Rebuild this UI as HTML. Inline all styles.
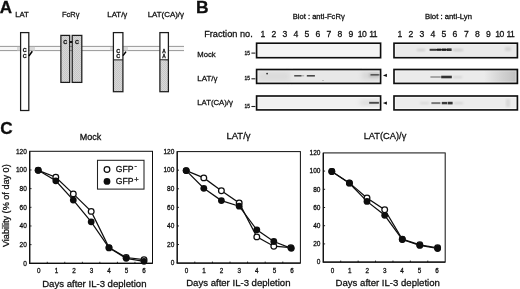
<!DOCTYPE html>
<html><head><meta charset="utf-8"><title>Figure</title>
<style>html,body{margin:0;padding:0;background:#fff;}svg{display:block;}text{font-family:"Liberation Sans", sans-serif;fill:#111;stroke:#111;stroke-width:0.28px;}</style>
</head><body>
<svg width="520" height="289" viewBox="0 0 520 289">
<defs>
<filter id="b1" x="-20%" y="-100%" width="140%" height="300%"><feGaussianBlur stdDeviation="0.75"/></filter>
<filter id="b2" x="-20%" y="-100%" width="140%" height="300%"><feGaussianBlur stdDeviation="1.2"/></filter>
<filter id="b3" x="-30%" y="-50%" width="160%" height="200%"><feGaussianBlur stdDeviation="2.5"/></filter>
<filter id="soft"><feGaussianBlur stdDeviation="0.35"/></filter>
<pattern id="dots" width="2" height="2" patternUnits="userSpaceOnUse"><rect width="2" height="2" fill="#d8d8d8"/><rect width="1" height="1" fill="#c6c6c6"/><rect x="1" y="1" width="1" height="1" fill="#c6c6c6"/></pattern>
<linearGradient id="smg" x1="0" x2="1" y1="0" y2="0"><stop offset="0" stop-color="#aaa" stop-opacity="0"/><stop offset="0.55" stop-color="#aaa" stop-opacity="0.4"/><stop offset="1" stop-color="#a0a0a0" stop-opacity="0.6"/></linearGradient>
</defs>
<rect width="520" height="289" fill="#fff"/>
<g filter="url(#soft)">
<text x="-0.3" y="12.5" font-size="16.0" text-anchor="start" font-weight="bold" textLength="12.3" lengthAdjust="spacingAndGlyphs">A</text>
<text x="15.2" y="17" font-size="7.6" text-anchor="start" font-weight="normal" textLength="13.6" lengthAdjust="spacingAndGlyphs">LAT</text>
<text x="62" y="17" font-size="7.6" text-anchor="start" font-weight="normal" textLength="17.4" lengthAdjust="spacingAndGlyphs">FcR&#947;</text>
<text x="107.3" y="17" font-size="7.6" text-anchor="start" font-weight="normal" textLength="20" lengthAdjust="spacingAndGlyphs">LAT/&#947;</text>
<text x="147.7" y="17" font-size="7.6" text-anchor="start" font-weight="normal" textLength="36.3" lengthAdjust="spacingAndGlyphs">LAT(CA)/&#947;</text>
<rect x="0" y="46.4" width="184" height="4.5" fill="#f7f7f7"/>
<line x1="0" y1="46.4" x2="184" y2="46.4" stroke="#8c8c8c" stroke-width="0.9"/>
<line x1="0" y1="50.6" x2="184" y2="50.6" stroke="#8c8c8c" stroke-width="0.9"/>
<rect x="17" y="46.9" width="3.5" height="3.5" fill="#d8d8d8"/>
<rect x="28.8" y="46.9" width="6.199999999999999" height="3.5" fill="#d8d8d8"/>
<rect x="110" y="46.9" width="3.299999999999997" height="3.5" fill="#d8d8d8"/>
<rect x="123" y="46.9" width="5" height="3.5" fill="#d8d8d8"/>
<rect x="20.6" y="32.6" width="8.2" height="77.9" fill="#fff" stroke="#1c1c1c" stroke-width="1.25"/>
<rect x="60.9" y="35.4" width="8.8" height="47" fill="url(#dots)" stroke="#1c1c1c" stroke-width="1.25"/>
<rect x="72.2" y="35.4" width="9.6" height="47" fill="url(#dots)" stroke="#1c1c1c" stroke-width="1.25"/>
<line x1="69.7" y1="42" x2="72.2" y2="42" stroke="#000" stroke-width="1.8"/>
<rect x="113.4" y="60.3" width="9.5" height="31.4" fill="url(#dots)" stroke="none"/>
<rect x="113.4" y="32.6" width="9.5" height="27.7" fill="#fff" stroke="none"/>
<rect x="113.4" y="32.6" width="9.5" height="59.1" fill="none" stroke="#1c1c1c" stroke-width="1.25"/>
<line x1="113.4" y1="59.9" x2="122.9" y2="59.9" stroke="#1c1c1c" stroke-width="1.1"/>
<rect x="159.9" y="60.3" width="8.5" height="31.4" fill="url(#dots)" stroke="none"/>
<rect x="159.9" y="32.6" width="8.5" height="27.7" fill="#fff" stroke="none"/>
<rect x="159.9" y="32.6" width="8.5" height="59.1" fill="none" stroke="#1c1c1c" stroke-width="1.25"/>
<line x1="159.9" y1="59.7" x2="168.4" y2="59.9" stroke="#1c1c1c" stroke-width="1.1"/>
<line x1="28.9" y1="56" x2="32.3" y2="51.3" stroke="#000" stroke-width="1.5"/>
<line x1="123" y1="55.6" x2="126" y2="51.6" stroke="#000" stroke-width="1.5"/>
<text x="24.7" y="52.4" font-size="5.4" text-anchor="middle" font-weight="bold">C</text>
<text x="24.7" y="58.2" font-size="5.4" text-anchor="middle" font-weight="bold">C</text>
<text x="65.2" y="44.2" font-size="5.4" text-anchor="middle" font-weight="bold">C</text>
<text x="77" y="44.2" font-size="5.4" text-anchor="middle" font-weight="bold">C</text>
<text x="118.1" y="53.1" font-size="5.4" text-anchor="middle" font-weight="bold">C</text>
<text x="118.1" y="58.3" font-size="5.4" text-anchor="middle" font-weight="bold">C</text>
<text x="164.1" y="52.6" font-size="4.8" text-anchor="middle" font-weight="bold">A</text>
<text x="164.1" y="57.9" font-size="4.8" text-anchor="middle" font-weight="bold">A</text>
<text x="195.9" y="12.5" font-size="15.8" text-anchor="start" font-weight="bold" textLength="12.6" lengthAdjust="spacingAndGlyphs">B</text>
<text x="292.7" y="19.2" font-size="7.5" text-anchor="start" font-weight="normal" textLength="52" lengthAdjust="spacingAndGlyphs">Blot : anti-FcR&#947;</text>
<text x="425" y="19.2" font-size="7.5" text-anchor="start" font-weight="normal" textLength="47" lengthAdjust="spacingAndGlyphs">Blot : anti-Lyn</text>
<text x="204.2" y="37" font-size="9.3" text-anchor="start" font-weight="normal" textLength="48.5" lengthAdjust="spacingAndGlyphs">Fraction no.</text>
<text x="263" y="37.1" font-size="8.6" text-anchor="middle" font-weight="normal" stroke-width="0.12">1</text>
<text x="400" y="37.1" font-size="8.6" text-anchor="middle" font-weight="normal" stroke-width="0.12">1</text>
<text x="274" y="37.1" font-size="8.6" text-anchor="middle" font-weight="normal" stroke-width="0.12">2</text>
<text x="411" y="37.1" font-size="8.6" text-anchor="middle" font-weight="normal" stroke-width="0.12">2</text>
<text x="285" y="37.1" font-size="8.6" text-anchor="middle" font-weight="normal" stroke-width="0.12">3</text>
<text x="422" y="37.1" font-size="8.6" text-anchor="middle" font-weight="normal" stroke-width="0.12">3</text>
<text x="296" y="37.1" font-size="8.6" text-anchor="middle" font-weight="normal" stroke-width="0.12">4</text>
<text x="433" y="37.1" font-size="8.6" text-anchor="middle" font-weight="normal" stroke-width="0.12">4</text>
<text x="307" y="37.1" font-size="8.6" text-anchor="middle" font-weight="normal" stroke-width="0.12">5</text>
<text x="444" y="37.1" font-size="8.6" text-anchor="middle" font-weight="normal" stroke-width="0.12">5</text>
<text x="318" y="37.1" font-size="8.6" text-anchor="middle" font-weight="normal" stroke-width="0.12">6</text>
<text x="455" y="37.1" font-size="8.6" text-anchor="middle" font-weight="normal" stroke-width="0.12">6</text>
<text x="329" y="37.1" font-size="8.6" text-anchor="middle" font-weight="normal" stroke-width="0.12">7</text>
<text x="466.4" y="37.1" font-size="8.6" text-anchor="middle" font-weight="normal" stroke-width="0.12">7</text>
<text x="340" y="37.1" font-size="8.6" text-anchor="middle" font-weight="normal" stroke-width="0.12">8</text>
<text x="477.4" y="37.1" font-size="8.6" text-anchor="middle" font-weight="normal" stroke-width="0.12">8</text>
<text x="351" y="37.1" font-size="8.6" text-anchor="middle" font-weight="normal" stroke-width="0.12">9</text>
<text x="488.4" y="37.1" font-size="8.6" text-anchor="middle" font-weight="normal" stroke-width="0.12">9</text>
<text x="362" y="37.1" font-size="8.6" text-anchor="middle" font-weight="normal" letter-spacing="-0.6" stroke-width="0.12">10</text>
<text x="499.4" y="37.1" font-size="8.6" text-anchor="middle" font-weight="normal" letter-spacing="-0.6" stroke-width="0.12">10</text>
<text x="373" y="37.1" font-size="8.6" text-anchor="middle" font-weight="normal" letter-spacing="-0.6" stroke-width="0.12">11</text>
<text x="510.4" y="37.1" font-size="8.6" text-anchor="middle" font-weight="normal" letter-spacing="-0.6" stroke-width="0.12">11</text>
<text x="197.3" y="56.5" font-size="8.0" text-anchor="start" font-weight="normal" textLength="18.4" lengthAdjust="spacingAndGlyphs">Mock</text>
<text x="197.3" y="81.0" font-size="8.0" text-anchor="start" font-weight="normal" textLength="20.2" lengthAdjust="spacingAndGlyphs">LAT/&#947;</text>
<text x="197.3" y="105.2" font-size="8.0" text-anchor="start" font-weight="normal" textLength="35.6" lengthAdjust="spacingAndGlyphs">LAT(CA)/&#947;</text>
<text x="244.5" y="54.7" font-size="5.2" text-anchor="start" font-weight="normal" textLength="5.4" lengthAdjust="spacingAndGlyphs">15</text>
<line x1="251.4" y1="53.1" x2="255.4" y2="53.1" stroke="#222" stroke-width="1.1"/>
<text x="244.5" y="80.39999999999999" font-size="5.2" text-anchor="start" font-weight="normal" textLength="5.4" lengthAdjust="spacingAndGlyphs">15</text>
<line x1="251.4" y1="78.8" x2="255.4" y2="78.8" stroke="#222" stroke-width="1.1"/>
<text x="244.5" y="108.1" font-size="5.2" text-anchor="start" font-weight="normal" textLength="5.4" lengthAdjust="spacingAndGlyphs">15</text>
<line x1="251.4" y1="106.5" x2="255.4" y2="106.5" stroke="#222" stroke-width="1.1"/>
<rect x="256.6" y="43.2" width="124.0" height="14.5" fill="#f4f4f4"/>
<rect x="394.0" y="43.2" width="123.39999999999998" height="14.5" fill="#eaeaea"/>
<rect x="256.6" y="69.5" width="124.0" height="13.900000000000006" fill="#e8e8e8"/>
<rect x="394.0" y="69.5" width="123.39999999999998" height="13.900000000000006" fill="#ebebeb"/>
<rect x="256.6" y="96.0" width="124.0" height="13.900000000000006" fill="#f0f0f0"/>
<rect x="394.0" y="96.0" width="123.39999999999998" height="13.900000000000006" fill="#ececec"/>
<rect x="258" y="71.5" width="32" height="10" fill="#cfcfcf" opacity="0.5" filter="url(#b3)"/>
<rect x="294.2" y="75.05" width="7.300000000000011" height="1.5" fill="#222" opacity="0.8" filter="url(#b1)"/>
<rect x="301.5" y="75.3" width="2.6999999999999886" height="1.0" fill="#444" opacity="0.45" filter="url(#b1)"/>
<rect x="306.8" y="75.0" width="8.099999999999966" height="1.6" fill="#222" opacity="0.8" filter="url(#b1)"/>
<rect x="362" y="71.5" width="18" height="8" fill="#999" opacity="0.22" filter="url(#b3)"/>
<rect x="369" y="72.95" width="11" height="4.5" fill="#888" opacity="0.3" filter="url(#b2)"/>
<rect x="370.5" y="74.0" width="9.300000000000011" height="1.6" fill="#222" opacity="0.65" filter="url(#b1)"/>
<circle cx="267.1" cy="73.6" r="0.85" fill="#222"/>
<circle cx="323" cy="80.6" r="0.5" fill="#777"/>
<rect x="360" y="100.7" width="20" height="4" fill="#999" opacity="0.3" filter="url(#b3)"/>
<rect x="369.2" y="101.85" width="10.0" height="1.9" fill="#222" opacity="0.8" filter="url(#b1)"/>
<polygon points="382.9,75.4 386.9,73.7 386.9,77.1" fill="#111"/>
<polygon points="382.9,103.1 386.9,101.4 386.9,104.8" fill="#111"/>
<rect x="429.6" y="48.8" width="7.0" height="2.0" fill="#1a1a1a" opacity="0.85" filter="url(#b1)"/>
<rect x="437.0" y="48.6" width="4.399999999999977" height="2.2" fill="#1a1a1a" opacity="0.9" filter="url(#b1)"/>
<rect x="442.0" y="48.5" width="4.399999999999977" height="2.4" fill="#1a1a1a" opacity="0.9" filter="url(#b1)"/>
<rect x="447.0" y="48.400000000000006" width="4.600000000000023" height="2.6" fill="#1a1a1a" opacity="0.9" filter="url(#b1)"/>
<rect x="436" y="49.0" width="11.5" height="1.4" fill="#1a1a1a" opacity="0.8" filter="url(#b1)"/>
<rect x="417" y="49.2" width="8" height="1.6" fill="#666" opacity="0.3" filter="url(#b2)"/>
<rect x="453" y="49.2" width="10" height="1.6" fill="#777" opacity="0.35" filter="url(#b2)"/>
<rect x="505" y="47.0" width="6" height="4" fill="#aaa" opacity="0.35" filter="url(#b2)"/>
<rect x="430.4" y="76.25" width="10.400000000000034" height="1.5" fill="#555" opacity="0.6" filter="url(#b1)"/>
<rect x="441.2" y="75.7" width="10.600000000000023" height="2.6" fill="#1a1a1a" opacity="0.9" filter="url(#b1)"/>
<rect x="453" y="76.4" width="9" height="1.6" fill="#888" opacity="0.3" filter="url(#b2)"/>
<rect x="484" y="70" width="33" height="13" fill="url(#smg)"/>
<rect x="431.4" y="102.1" width="9.0" height="2.0" fill="#3a3a3a" opacity="0.65" filter="url(#b1)"/>
<rect x="441.8" y="101.89999999999999" width="5.199999999999989" height="2.4" fill="#1a1a1a" opacity="0.85" filter="url(#b1)"/>
<rect x="447.6" y="101.8" width="5.0" height="2.6" fill="#1a1a1a" opacity="0.9" filter="url(#b1)"/>
<rect x="420" y="102.4" width="9" height="1.6" fill="#888" opacity="0.25" filter="url(#b2)"/>
<rect x="454" y="102.4" width="9" height="1.6" fill="#888" opacity="0.3" filter="url(#b2)"/>
<rect x="506" y="99.0" width="4" height="8" fill="#aaa" opacity="0.3" filter="url(#b2)"/>
<rect x="257.90000000000003" y="44.5" width="121.4" height="11.9" fill="none" stroke="#fff" stroke-opacity="0.6" stroke-width="0.9"/>
<rect x="256.6" y="43.2" width="124.0" height="14.5" fill="none" stroke="#111" stroke-width="1.65"/>
<rect x="395.3" y="44.5" width="120.79999999999998" height="11.9" fill="none" stroke="#fff" stroke-opacity="0.6" stroke-width="0.9"/>
<rect x="394.0" y="43.2" width="123.39999999999998" height="14.5" fill="none" stroke="#111" stroke-width="1.65"/>
<rect x="257.90000000000003" y="70.8" width="121.4" height="11.300000000000006" fill="none" stroke="#fff" stroke-opacity="0.6" stroke-width="0.9"/>
<rect x="256.6" y="69.5" width="124.0" height="13.900000000000006" fill="none" stroke="#111" stroke-width="1.65"/>
<rect x="395.3" y="70.8" width="120.79999999999998" height="11.300000000000006" fill="none" stroke="#fff" stroke-opacity="0.6" stroke-width="0.9"/>
<rect x="394.0" y="69.5" width="123.39999999999998" height="13.900000000000006" fill="none" stroke="#111" stroke-width="1.65"/>
<rect x="257.90000000000003" y="97.3" width="121.4" height="11.300000000000006" fill="none" stroke="#fff" stroke-opacity="0.6" stroke-width="0.9"/>
<rect x="256.6" y="96.0" width="124.0" height="13.900000000000006" fill="none" stroke="#111" stroke-width="1.65"/>
<rect x="395.3" y="97.3" width="120.79999999999998" height="11.300000000000006" fill="none" stroke="#fff" stroke-opacity="0.6" stroke-width="0.9"/>
<rect x="394.0" y="96.0" width="123.39999999999998" height="13.900000000000006" fill="none" stroke="#111" stroke-width="1.65"/>
<text x="0.2" y="134.0" font-size="16.6" text-anchor="start" font-weight="bold" textLength="12.4" lengthAdjust="spacingAndGlyphs">C</text>
<text x="79.8" y="139.5" font-size="9.1" text-anchor="start" font-weight="normal" textLength="21.5" lengthAdjust="spacingAndGlyphs">Mock</text>
<text x="226.5" y="139.2" font-size="9.1" text-anchor="start" font-weight="normal" textLength="24" lengthAdjust="spacingAndGlyphs">LAT/&#947;</text>
<text x="363.7" y="138.8" font-size="9.1" text-anchor="start" font-weight="normal" textLength="42.6" lengthAdjust="spacingAndGlyphs">LAT(CA)/&#947;</text>
<rect x="29.7" y="151.3" width="122.8" height="112.0" fill="none" stroke="#111" stroke-width="1.0"/>
<line x1="29.7" y1="151.3" x2="29.7" y2="263.3" stroke="#111" stroke-width="1.15"/>
<line x1="29.099999999999998" y1="263.3" x2="152.5" y2="263.3" stroke="#111" stroke-width="1.2"/>
<text x="26.8" y="265.6" font-size="6.5" text-anchor="end" font-weight="normal" stroke-width="0.12">0</text>
<line x1="29.7" y1="244.63" x2="31.5" y2="244.63" stroke="#111" stroke-width="0.9"/>
<text x="26.8" y="246.93" font-size="6.5" text-anchor="end" font-weight="normal" stroke-width="0.12">20</text>
<line x1="29.7" y1="225.97" x2="31.5" y2="225.97" stroke="#111" stroke-width="0.9"/>
<text x="26.8" y="228.27" font-size="6.5" text-anchor="end" font-weight="normal" stroke-width="0.12">40</text>
<line x1="29.7" y1="207.30" x2="31.5" y2="207.30" stroke="#111" stroke-width="0.9"/>
<text x="26.8" y="209.6" font-size="6.5" text-anchor="end" font-weight="normal" stroke-width="0.12">60</text>
<line x1="29.7" y1="188.63" x2="31.5" y2="188.63" stroke="#111" stroke-width="0.9"/>
<text x="26.8" y="190.93" font-size="6.5" text-anchor="end" font-weight="normal" stroke-width="0.12">80</text>
<line x1="29.7" y1="169.97" x2="31.5" y2="169.97" stroke="#111" stroke-width="0.9"/>
<text x="26.8" y="172.27" font-size="6.5" text-anchor="end" font-weight="normal" stroke-width="0.12">100</text>
<text x="26.8" y="153.6" font-size="6.5" text-anchor="end" font-weight="normal" stroke-width="0.12">120</text>
<text x="38.87" y="273.4" font-size="6.3" text-anchor="middle" font-weight="normal" stroke-width="0.35">0</text>
<line x1="47.24" y1="263.3" x2="47.24" y2="261.8" stroke="#111" stroke-width="0.9"/>
<text x="56.41" y="273.4" font-size="6.3" text-anchor="middle" font-weight="normal" stroke-width="0.35">1</text>
<line x1="64.79" y1="263.3" x2="64.79" y2="261.8" stroke="#111" stroke-width="0.9"/>
<text x="73.96" y="273.4" font-size="6.3" text-anchor="middle" font-weight="normal" stroke-width="0.35">2</text>
<line x1="82.33" y1="263.3" x2="82.33" y2="261.8" stroke="#111" stroke-width="0.9"/>
<text x="91.5" y="273.4" font-size="6.3" text-anchor="middle" font-weight="normal" stroke-width="0.35">3</text>
<line x1="99.87" y1="263.3" x2="99.87" y2="261.8" stroke="#111" stroke-width="0.9"/>
<text x="109.04" y="273.4" font-size="6.3" text-anchor="middle" font-weight="normal" stroke-width="0.35">4</text>
<line x1="117.41" y1="263.3" x2="117.41" y2="261.8" stroke="#111" stroke-width="0.9"/>
<text x="126.59" y="273.4" font-size="6.3" text-anchor="middle" font-weight="normal" stroke-width="0.35">5</text>
<line x1="134.96" y1="263.3" x2="134.96" y2="261.8" stroke="#111" stroke-width="0.9"/>
<text x="144.13" y="273.4" font-size="6.3" text-anchor="middle" font-weight="normal" stroke-width="0.35">6</text>
<text x="42.2" y="286.8" font-size="9.5" text-anchor="start" font-weight="normal" textLength="104.3" lengthAdjust="spacingAndGlyphs">Days after IL-3 depletion</text>
<polyline points="38.2,170.3 55.8,177.2 73.3,193.9 91.2,211.4 109,247.6 126.2,257.5 144,259.6" fill="none" stroke="#111" stroke-width="1.25"/>
<polyline points="38.2,170.3 55.8,180.8 73.3,200.1 91.2,221.8 109,247.9 126.2,258.3 144,261.3" fill="none" stroke="#111" stroke-width="1.25"/>
<circle cx="38.2" cy="170.3" r="2.85" fill="#fff" stroke="#111" stroke-width="1.25"/>
<circle cx="55.8" cy="177.2" r="2.85" fill="#fff" stroke="#111" stroke-width="1.25"/>
<circle cx="73.3" cy="193.9" r="2.85" fill="#fff" stroke="#111" stroke-width="1.25"/>
<circle cx="91.2" cy="211.4" r="2.85" fill="#fff" stroke="#111" stroke-width="1.25"/>
<circle cx="109" cy="247.6" r="2.85" fill="#fff" stroke="#111" stroke-width="1.25"/>
<circle cx="126.2" cy="257.5" r="2.85" fill="#fff" stroke="#111" stroke-width="1.25"/>
<circle cx="144" cy="259.6" r="2.85" fill="#fff" stroke="#111" stroke-width="1.25"/>
<circle cx="38.2" cy="170.3" r="3.4" fill="#111"/>
<circle cx="55.8" cy="180.8" r="3.4" fill="#111"/>
<circle cx="73.3" cy="200.1" r="3.4" fill="#111"/>
<circle cx="91.2" cy="221.8" r="3.4" fill="#111"/>
<circle cx="109" cy="247.9" r="3.4" fill="#111"/>
<circle cx="126.2" cy="258.3" r="3.4" fill="#111"/>
<circle cx="144" cy="261.3" r="3.4" fill="#111"/>
<rect x="177.2" y="151.6" width="123.19999999999999" height="111.50000000000003" fill="none" stroke="#111" stroke-width="1.0"/>
<line x1="177.2" y1="151.6" x2="177.2" y2="263.1" stroke="#111" stroke-width="1.15"/>
<line x1="176.6" y1="263.1" x2="300.4" y2="263.1" stroke="#111" stroke-width="1.2"/>
<text x="174.29999999999998" y="265.4" font-size="6.5" text-anchor="end" font-weight="normal" stroke-width="0.12">0</text>
<line x1="177.2" y1="244.52" x2="179.0" y2="244.52" stroke="#111" stroke-width="0.9"/>
<text x="174.29999999999998" y="246.82" font-size="6.5" text-anchor="end" font-weight="normal" stroke-width="0.12">20</text>
<line x1="177.2" y1="225.93" x2="179.0" y2="225.93" stroke="#111" stroke-width="0.9"/>
<text x="174.29999999999998" y="228.23" font-size="6.5" text-anchor="end" font-weight="normal" stroke-width="0.12">40</text>
<line x1="177.2" y1="207.35" x2="179.0" y2="207.35" stroke="#111" stroke-width="0.9"/>
<text x="174.29999999999998" y="209.65" font-size="6.5" text-anchor="end" font-weight="normal" stroke-width="0.12">60</text>
<line x1="177.2" y1="188.77" x2="179.0" y2="188.77" stroke="#111" stroke-width="0.9"/>
<text x="174.29999999999998" y="191.07" font-size="6.5" text-anchor="end" font-weight="normal" stroke-width="0.12">80</text>
<line x1="177.2" y1="170.18" x2="179.0" y2="170.18" stroke="#111" stroke-width="0.9"/>
<text x="174.29999999999998" y="172.48" font-size="6.5" text-anchor="end" font-weight="normal" stroke-width="0.12">100</text>
<text x="174.29999999999998" y="153.9" font-size="6.5" text-anchor="end" font-weight="normal" stroke-width="0.12">120</text>
<text x="186.4" y="273.0" font-size="6.3" text-anchor="middle" font-weight="normal" stroke-width="0.35">0</text>
<line x1="194.80" y1="263.1" x2="194.80" y2="261.6" stroke="#111" stroke-width="0.9"/>
<text x="204.0" y="273.0" font-size="6.3" text-anchor="middle" font-weight="normal" stroke-width="0.35">1</text>
<line x1="212.40" y1="263.1" x2="212.40" y2="261.6" stroke="#111" stroke-width="0.9"/>
<text x="221.6" y="273.0" font-size="6.3" text-anchor="middle" font-weight="normal" stroke-width="0.35">2</text>
<line x1="230.00" y1="263.1" x2="230.00" y2="261.6" stroke="#111" stroke-width="0.9"/>
<text x="239.2" y="273.0" font-size="6.3" text-anchor="middle" font-weight="normal" stroke-width="0.35">3</text>
<line x1="247.60" y1="263.1" x2="247.60" y2="261.6" stroke="#111" stroke-width="0.9"/>
<text x="256.8" y="273.0" font-size="6.3" text-anchor="middle" font-weight="normal" stroke-width="0.35">4</text>
<line x1="265.20" y1="263.1" x2="265.20" y2="261.6" stroke="#111" stroke-width="0.9"/>
<text x="274.4" y="273.0" font-size="6.3" text-anchor="middle" font-weight="normal" stroke-width="0.35">5</text>
<line x1="282.80" y1="263.1" x2="282.80" y2="261.6" stroke="#111" stroke-width="0.9"/>
<text x="292.0" y="273.0" font-size="6.3" text-anchor="middle" font-weight="normal" stroke-width="0.35">6</text>
<text x="186.2" y="286.3" font-size="9.5" text-anchor="start" font-weight="normal" textLength="104.3" lengthAdjust="spacingAndGlyphs">Days after IL-3 depletion</text>
<polyline points="186.2,170.6 203.8,177.9 221.4,190.8 239.2,203.0 256.8,236.9 273.8,246.2 290.8,247.6" fill="none" stroke="#111" stroke-width="1.25"/>
<polyline points="186.2,170.6 203.8,188.3 221.4,200.6 239.2,206.2 256.8,229.8 273.8,241.5 291.3,248.3" fill="none" stroke="#111" stroke-width="1.25"/>
<circle cx="186.2" cy="170.6" r="2.85" fill="#fff" stroke="#111" stroke-width="1.25"/>
<circle cx="203.8" cy="177.9" r="2.85" fill="#fff" stroke="#111" stroke-width="1.25"/>
<circle cx="221.4" cy="190.8" r="2.85" fill="#fff" stroke="#111" stroke-width="1.25"/>
<circle cx="239.2" cy="203.0" r="2.85" fill="#fff" stroke="#111" stroke-width="1.25"/>
<circle cx="256.8" cy="236.9" r="2.85" fill="#fff" stroke="#111" stroke-width="1.25"/>
<circle cx="273.8" cy="246.2" r="2.85" fill="#fff" stroke="#111" stroke-width="1.25"/>
<circle cx="290.8" cy="247.6" r="2.85" fill="#fff" stroke="#111" stroke-width="1.25"/>
<circle cx="186.2" cy="170.6" r="3.4" fill="#111"/>
<circle cx="203.8" cy="188.3" r="3.4" fill="#111"/>
<circle cx="221.4" cy="200.6" r="3.4" fill="#111"/>
<circle cx="239.2" cy="206.2" r="3.4" fill="#111"/>
<circle cx="256.8" cy="229.8" r="3.4" fill="#111"/>
<circle cx="273.8" cy="241.5" r="3.4" fill="#111"/>
<circle cx="291.3" cy="248.3" r="3.4" fill="#111"/>
<rect x="323.3" y="152.9" width="121.89999999999998" height="109.20000000000002" fill="none" stroke="#111" stroke-width="1.0"/>
<line x1="323.3" y1="152.9" x2="323.3" y2="262.1" stroke="#111" stroke-width="1.15"/>
<line x1="322.7" y1="262.1" x2="445.2" y2="262.1" stroke="#111" stroke-width="1.2"/>
<text x="320.40000000000003" y="264.4" font-size="6.5" text-anchor="end" font-weight="normal" stroke-width="0.12">0</text>
<line x1="323.3" y1="243.90" x2="325.1" y2="243.90" stroke="#111" stroke-width="0.9"/>
<text x="320.40000000000003" y="246.2" font-size="6.5" text-anchor="end" font-weight="normal" stroke-width="0.12">20</text>
<line x1="323.3" y1="225.70" x2="325.1" y2="225.70" stroke="#111" stroke-width="0.9"/>
<text x="320.40000000000003" y="228.0" font-size="6.5" text-anchor="end" font-weight="normal" stroke-width="0.12">40</text>
<line x1="323.3" y1="207.50" x2="325.1" y2="207.50" stroke="#111" stroke-width="0.9"/>
<text x="320.40000000000003" y="209.8" font-size="6.5" text-anchor="end" font-weight="normal" stroke-width="0.12">60</text>
<line x1="323.3" y1="189.30" x2="325.1" y2="189.30" stroke="#111" stroke-width="0.9"/>
<text x="320.40000000000003" y="191.6" font-size="6.5" text-anchor="end" font-weight="normal" stroke-width="0.12">80</text>
<line x1="323.3" y1="171.10" x2="325.1" y2="171.10" stroke="#111" stroke-width="0.9"/>
<text x="320.40000000000003" y="173.4" font-size="6.5" text-anchor="end" font-weight="normal" stroke-width="0.12">100</text>
<text x="320.40000000000003" y="155.2" font-size="6.5" text-anchor="end" font-weight="normal" stroke-width="0.12">120</text>
<text x="332.41" y="272.7" font-size="6.3" text-anchor="middle" font-weight="normal" stroke-width="0.35">0</text>
<line x1="340.71" y1="262.1" x2="340.71" y2="260.6" stroke="#111" stroke-width="0.9"/>
<text x="349.82" y="272.7" font-size="6.3" text-anchor="middle" font-weight="normal" stroke-width="0.35">1</text>
<line x1="358.13" y1="262.1" x2="358.13" y2="260.6" stroke="#111" stroke-width="0.9"/>
<text x="367.24" y="272.7" font-size="6.3" text-anchor="middle" font-weight="normal" stroke-width="0.35">2</text>
<line x1="375.54" y1="262.1" x2="375.54" y2="260.6" stroke="#111" stroke-width="0.9"/>
<text x="384.65" y="272.7" font-size="6.3" text-anchor="middle" font-weight="normal" stroke-width="0.35">3</text>
<line x1="392.96" y1="262.1" x2="392.96" y2="260.6" stroke="#111" stroke-width="0.9"/>
<text x="402.06" y="272.7" font-size="6.3" text-anchor="middle" font-weight="normal" stroke-width="0.35">4</text>
<line x1="410.37" y1="262.1" x2="410.37" y2="260.6" stroke="#111" stroke-width="0.9"/>
<text x="419.48" y="272.7" font-size="6.3" text-anchor="middle" font-weight="normal" stroke-width="0.35">5</text>
<line x1="427.79" y1="262.1" x2="427.79" y2="260.6" stroke="#111" stroke-width="0.9"/>
<text x="436.89" y="272.7" font-size="6.3" text-anchor="middle" font-weight="normal" stroke-width="0.35">6</text>
<text x="335.6" y="285.8" font-size="9.5" text-anchor="start" font-weight="normal" textLength="104.3" lengthAdjust="spacingAndGlyphs">Days after IL-3 depletion</text>
<polyline points="331.8,171.5 349.4,182.9 367,198.0 384.7,209.8 402.3,239.2 419.8,244.8 437.6,247.8" fill="none" stroke="#111" stroke-width="1.25"/>
<polyline points="331.8,171.5 349.4,183.2 367,201.4 384.7,215.3 402.3,239.5 419.8,245.4 437.6,248.5" fill="none" stroke="#111" stroke-width="1.25"/>
<circle cx="331.8" cy="171.5" r="2.85" fill="#fff" stroke="#111" stroke-width="1.25"/>
<circle cx="349.4" cy="182.9" r="2.85" fill="#fff" stroke="#111" stroke-width="1.25"/>
<circle cx="367" cy="198.0" r="2.85" fill="#fff" stroke="#111" stroke-width="1.25"/>
<circle cx="384.7" cy="209.8" r="2.85" fill="#fff" stroke="#111" stroke-width="1.25"/>
<circle cx="402.3" cy="239.2" r="2.85" fill="#fff" stroke="#111" stroke-width="1.25"/>
<circle cx="419.8" cy="244.8" r="2.85" fill="#fff" stroke="#111" stroke-width="1.25"/>
<circle cx="437.6" cy="247.8" r="2.85" fill="#fff" stroke="#111" stroke-width="1.25"/>
<circle cx="331.8" cy="171.5" r="3.4" fill="#111"/>
<circle cx="349.4" cy="183.2" r="3.4" fill="#111"/>
<circle cx="367" cy="201.4" r="3.4" fill="#111"/>
<circle cx="384.7" cy="215.3" r="3.4" fill="#111"/>
<circle cx="402.3" cy="239.5" r="3.4" fill="#111"/>
<circle cx="419.8" cy="245.4" r="3.4" fill="#111"/>
<circle cx="437.6" cy="248.5" r="3.4" fill="#111"/>
<text transform="translate(9.2,247.1) rotate(-90)" font-size="9.1" textLength="82.8" lengthAdjust="spacingAndGlyphs">Viability (% of day 0)</text>
<rect x="97.5" y="160.3" width="46.5" height="28.8" fill="#fff" stroke="#222" stroke-width="1.05"/>
<circle cx="107" cy="169.5" r="2.85" fill="#fff" stroke="#111" stroke-width="1.25"/>
<circle cx="107" cy="181.4" r="3.4" fill="#111"/>
<text x="115.8" y="171.7" font-size="8.8" text-anchor="start" font-weight="normal" textLength="17.8" lengthAdjust="spacingAndGlyphs">GFP</text>
<text x="115.8" y="183.9" font-size="8.8" text-anchor="start" font-weight="normal" textLength="17.8" lengthAdjust="spacingAndGlyphs">GFP</text>
<text x="134.6" y="168.2" font-size="7" text-anchor="start" font-weight="normal">-</text>
<text x="134.2" y="181.6" font-size="7.5" text-anchor="start" font-weight="normal">+</text>
</g>
</svg>
</body></html>
